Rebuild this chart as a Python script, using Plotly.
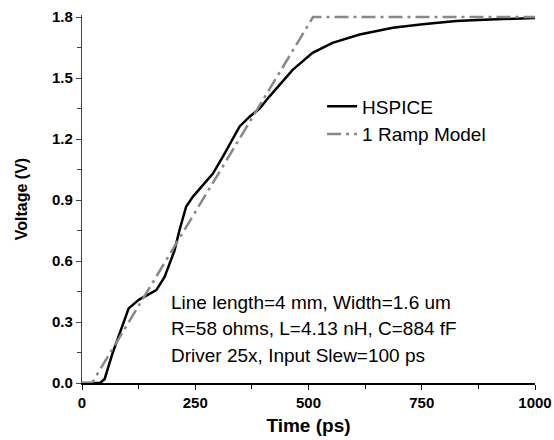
import plotly.graph_objects as go

# HSPICE waveform (time in ps, voltage in V)
hspice_t = [0, 40, 50, 68, 103, 110, 126, 150, 164, 182, 204, 215, 230, 245, 289,
            311, 348, 370, 392, 414, 465, 509, 553, 613, 686, 752, 826, 900, 1000]
hspice_v = [0, 0, 0.02, 0.15, 0.367, 0.38, 0.41, 0.44, 0.457, 0.52, 0.65, 0.75, 0.868,
            0.917, 1.03, 1.114, 1.262, 1.31, 1.35, 1.41, 1.54, 1.624, 1.673, 1.714,
            1.747, 1.764, 1.78, 1.788, 1.795]

# 1 Ramp Model
ramp_t = [0, 22, 510, 1000]
ramp_v = [0, 0, 1.8, 1.8]

notes = [
    "Line length=4 mm, Width=1.6 um",
    "R=58 ohms, L=4.13 nH, C=884 fF",
    "Driver 25x, Input Slew=100 ps",
]

font = "Liberation Sans, Arial, sans-serif"

fig = go.Figure()
fig.add_trace(go.Scatter(x=hspice_t, y=hspice_v, mode="lines", name="HSPICE",
                         line=dict(color="black", width=2.5)))
fig.add_trace(go.Scatter(x=ramp_t, y=ramp_v, mode="lines", name="1 Ramp Model",
                         line=dict(color="#888888", width=2.5, dash="14px,5px,3px,5px")))

for i, txt in enumerate(notes):
    fig.add_annotation(text=txt, xref="paper", yref="paper", x=0.192, y=0.22 - i * 0.073,
                       xanchor="left", yanchor="middle", showarrow=False,
                       font=dict(family=font, size=19, color="black"))

fig.update_layout(
    width=554, height=440,
    margin=dict(l=82, r=19, t=15, b=57),
    plot_bgcolor="white", paper_bgcolor="white",
    font=dict(family=font, color="black"),
    legend=dict(x=0.53, y=0.803, xanchor="left", yanchor="top",
                font=dict(family=font, size=19), bgcolor="rgba(0,0,0,0)",
                tracegroupgap=0),
)
fig.update_xaxes(
    range=[0, 1000], tickvals=[0, 250, 500, 750, 1000], automargin=False,
    showgrid=False, zeroline=False, showline=True, linecolor="black", linewidth=1.8,
    ticks="outside", ticklen=5, tickwidth=1.2, tickcolor="black",
    minor=dict(dtick=125, ticks="outside", ticklen=4, tickcolor="black"),
    tickfont=dict(family=font, size=15, weight="bold"),
    title=dict(text="<b>Time (ps)</b>", font=dict(family=font, size=19), standoff=9),
)
fig.update_yaxes(
    range=[0, 1.81], tickvals=[0, 0.3, 0.6, 0.9, 1.2, 1.5, 1.8], tickformat=".1f",
    automargin=False,
    showgrid=False, zeroline=False, showline=True, linecolor="#444444", linewidth=1.2,
    ticks="outside", ticklen=5, tickwidth=1.2, tickcolor="#444444",
    minor=dict(dtick=0.15, ticks="outside", ticklen=4, tickcolor="#444444"),
    tickfont=dict(family=font, size=15, weight="bold"),
    title=dict(text="<b>Voltage (V)</b>", font=dict(family=font, size=16), standoff=20),
)

# drop the browser's default page margin so the figure fills the window
fig.write_html("out.html", config={"displayModeBar": False},
               post_script="document.body.style.margin='0';")
